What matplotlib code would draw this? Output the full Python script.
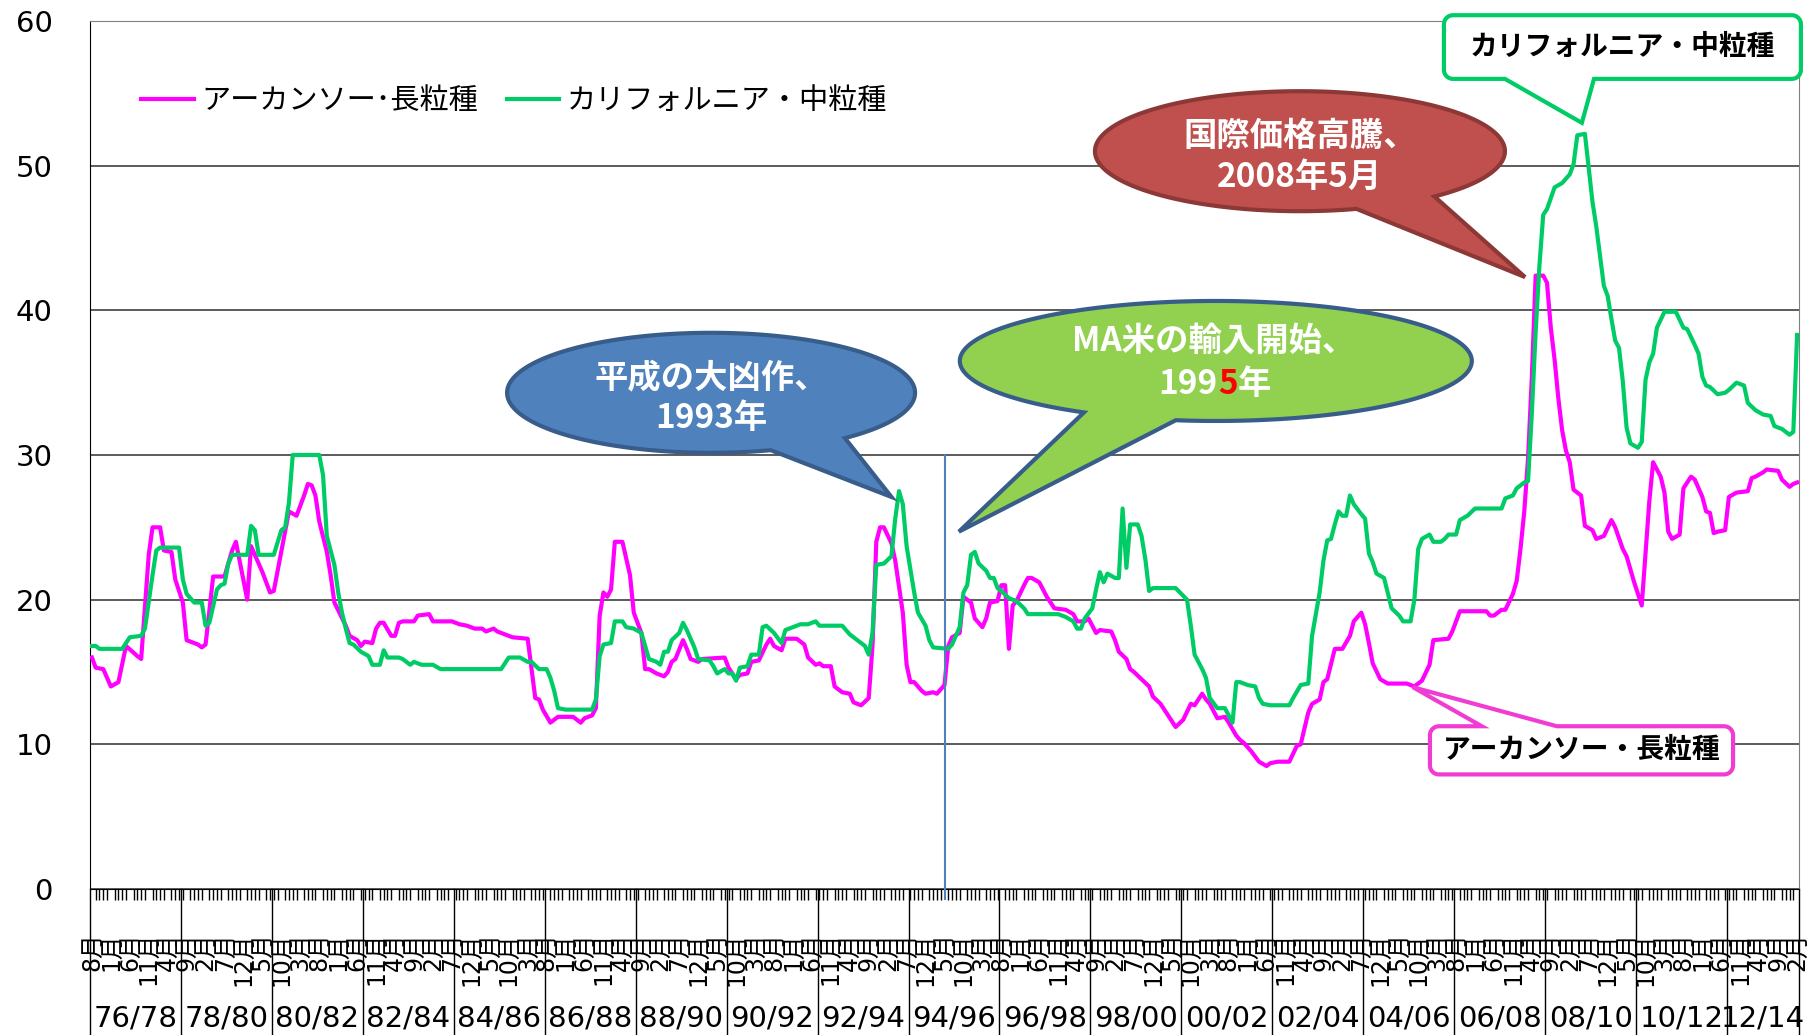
import matplotlib
matplotlib.use("Agg")
import matplotlib.pyplot as plt
import numpy as np
from matplotlib.patches import Polygon

plt.rcParams['font.family'] = ['Noto Sans CJK JP', 'DejaVu Sans']

# monthly index: 0 = Aug 1976 ... 450 = Feb 2014
n_months = 451

ark_month = [0, 1, 3, 5, 7, 9, 12, 13, 15, 16,
             18, 19, 21, 22, 24, 25, 28, 29, 30, 32,
             35, 37, 38, 41, 42, 45, 47, 48, 51, 52,
             54, 56, 57, 58, 59, 60, 62, 63, 64, 67,
             68, 70, 71, 72, 74, 75, 76, 77, 79, 80,
             81, 82, 85, 86, 89, 90, 95, 97, 99, 101,
             103, 104, 106, 107, 108, 111, 115, 117, 118, 119,
             121, 123, 127, 129, 130, 132, 133, 134, 135, 136,
             137, 138, 140, 142, 143, 145, 146, 147, 149, 151,
             152, 153, 154, 156, 157, 158, 160, 161, 167, 168,
             170, 171, 173, 174, 176, 178, 179, 180, 182, 183,
             186, 188, 189, 191, 192, 193, 195, 196, 198, 200,
             201, 203, 205, 206, 207, 208, 209, 211, 212, 214,
             215, 216, 217, 219, 220, 222, 223, 225, 226, 227,
             229, 230, 232, 233, 235, 236, 237, 239, 240, 241,
             242, 243, 244, 246, 247, 248, 250, 252, 254, 257,
             259, 260, 262, 263, 265, 266, 269, 270, 271, 273,
             274, 275, 277, 279, 280, 282, 284, 285, 286, 288,
             290, 291, 293, 294, 295, 297, 299, 300, 302, 303,
             304, 306, 308, 310, 311, 313, 316, 318, 319, 321,
             322, 324, 325, 326, 328, 330, 332, 333, 335, 336,
             337, 338, 340, 342, 347, 349, 351, 353, 354, 358,
             359, 361, 368, 369, 370, 372, 373, 375, 376, 377,
             378, 379, 380, 381, 383, 384, 385, 386, 387, 388,
             389, 390, 391, 393, 394, 396, 397, 399, 401, 402,
             404, 405, 407, 408, 409, 411, 412, 414, 415, 416,
             417, 419, 420, 422, 423, 425, 426, 427, 428, 429,
             431, 432, 434, 437, 438, 439, 441, 442, 445, 446,
             448, 449, 450]
ark_price = [16.0, 15.3, 15.2, 14.0, 14.3, 16.8, 16.1, 15.9, 23.1, 25.0,
             25.0, 23.4, 23.3, 21.4, 19.8, 17.2, 16.9, 16.7, 16.9, 21.6,
             21.6, 23.4, 24.0, 20.0, 23.7, 21.9, 20.5, 20.6, 24.7, 26.1,
             25.8, 27.2, 28.0, 27.9, 27.2, 25.4, 23.3, 21.7, 19.8, 18.2,
             17.5, 17.2, 16.8, 17.1, 17.0, 18.0, 18.4, 18.4, 17.5, 17.5,
             18.4, 18.5, 18.5, 18.9, 19.0, 18.5, 18.5, 18.3, 18.2, 18.0,
             18.0, 17.8, 18.0, 17.8, 17.7, 17.4, 17.3, 13.2, 13.1, 12.4,
             11.5, 11.9, 11.9, 11.5, 11.8, 12.0, 12.5, 18.9, 20.5, 20.2,
             20.7, 24.0, 24.0, 21.7, 19.1, 17.7, 15.2, 15.2, 14.9, 14.7,
             15.0, 15.7, 15.9, 17.2, 16.6, 15.9, 15.7, 15.9, 16.0, 15.3,
             14.5, 14.8, 14.9, 15.7, 15.8, 16.9, 17.3, 16.8, 16.5, 17.3,
             17.3, 16.9, 16.0, 15.5, 15.6, 15.4, 15.4, 14.0, 13.6, 13.5,
             12.9, 12.7, 13.2, 16.8, 24.0, 25.0, 25.0, 23.9, 22.7, 19.1,
             15.5, 14.3, 14.3, 13.7, 13.5, 13.6, 13.5, 14.1, 16.8, 17.4,
             17.7, 20.2, 19.8, 18.7, 18.1, 18.7, 19.8, 19.9, 21.0, 21.0,
             16.6, 19.6, 19.9, 21.0, 21.5, 21.5, 21.2, 20.2, 19.4, 19.3,
             19.0, 18.5, 18.5, 18.7, 17.7, 17.9, 17.8, 17.2, 16.4, 15.9,
             15.2, 15.0, 14.5, 14.0, 13.3, 12.8, 12.0, 11.6, 11.2, 11.7,
             12.8, 12.7, 13.5, 13.1, 12.8, 11.8, 11.9, 11.5, 10.6, 10.3,
             10.1, 9.5, 8.8, 8.5, 8.7, 8.8, 8.8, 9.9, 10.0, 12.2,
             12.8, 13.1, 14.3, 14.5, 16.6, 16.6, 17.5, 18.5, 19.1, 18.3,
             17.0, 15.6, 14.5, 14.2, 14.2, 14.0, 14.4, 15.5, 17.2, 17.3,
             17.8, 19.2, 19.2, 18.9, 18.9, 19.3, 19.3, 20.4, 21.3, 23.5,
             26.1, 29.8, 35.4, 42.4, 42.4, 41.9, 38.8, 36.6, 33.9, 31.7,
             30.3, 29.5, 27.6, 27.2, 25.1, 24.8, 24.2, 24.4, 25.5, 25.0,
             23.5, 23.0, 21.2, 20.4, 19.6, 26.8, 29.5, 28.5, 27.4, 24.7,
             24.2, 24.5, 27.7, 28.5, 28.3, 27.1, 26.1, 26.0, 24.6, 24.7,
             24.8, 27.1, 27.4, 27.5, 28.4, 28.5, 28.8, 29.0, 28.9, 28.3,
             27.8, 28.0, 28.1]

cal_month = [0, 1, 2, 8, 10, 13, 14, 16, 17, 18,
             23, 24, 25, 27, 29, 30, 31, 33, 34, 35,
             36, 37, 41, 42, 43, 44, 48, 50, 51, 52,
             53, 60, 61, 62, 64, 65, 66, 67, 68, 69,
             71, 73, 74, 76, 77, 78, 81, 82, 84, 85,
             87, 90, 92, 108, 110, 113, 115, 116, 118, 120,
             121, 122, 123, 125, 132, 133, 134, 135, 137, 138,
             140, 141, 143, 145, 147, 149, 150, 151, 152, 153,
             155, 156, 157, 159, 160, 163, 164, 165, 167, 168,
             169, 170, 171, 173, 174, 176, 177, 178, 180, 182,
             183, 185, 187, 189, 191, 192, 198, 200, 201, 204,
             205, 206, 207, 209, 211, 212, 213, 214, 215, 217,
             218, 220, 221, 222, 226, 227, 229, 230, 231, 232,
             233, 234, 236, 237, 238, 239, 240, 242, 244, 246,
             247, 255, 257, 259, 260, 261, 262, 264, 265, 266,
             267, 268, 270, 271, 272, 273, 274, 276, 277, 278,
             279, 280, 286, 289, 290, 291, 293, 294, 295, 297,
             299, 300, 301, 302, 303, 305, 307, 308, 309, 311,
             316, 317, 319, 321, 322, 324, 325, 326, 327, 328,
             329, 330, 331, 332, 333, 335, 336, 337, 338, 339,
             341, 343, 345, 346, 348, 349, 350, 351, 353, 354,
             356, 357, 358, 360, 361, 363, 365, 372, 373, 375,
             376, 378, 379, 380, 381, 382, 383, 384, 386, 388,
             390, 391, 392, 394, 396, 397, 399, 400, 401, 402,
             403, 404, 405, 406, 408, 409, 410, 411, 412, 413,
             415, 418, 420, 421, 423, 424, 425, 426, 427, 429,
             431, 432, 434, 436, 437, 439, 441, 443, 444, 446,
             448, 449, 450]
cal_price = [16.8, 16.8, 16.6, 16.6, 17.4, 17.5, 18.0, 21.7, 23.4, 23.6,
             23.6, 21.4, 20.4, 19.8, 19.8, 18.2, 18.4, 20.7, 21.0, 21.1,
             22.5, 23.1, 23.1, 25.1, 24.8, 23.1, 23.1, 24.8, 25.0, 26.7,
             30.0, 30.0, 28.6, 24.4, 22.4, 20.5, 19.1, 18.0, 17.0, 16.9,
             16.4, 16.1, 15.5, 15.5, 16.5, 16.0, 16.0, 15.9, 15.5, 15.7,
             15.5, 15.5, 15.2, 15.2, 16.0, 16.0, 15.7, 15.7, 15.2, 15.2,
             14.6, 13.7, 12.5, 12.4, 12.4, 13.1, 16.1, 16.9, 17.0, 18.5,
             18.5, 18.1, 18.0, 17.7, 15.9, 15.7, 15.5, 16.4, 16.4, 17.2,
             17.7, 18.4, 17.9, 16.7, 15.9, 15.8, 15.4, 14.9, 15.2, 14.9,
             14.9, 14.4, 15.3, 15.4, 16.2, 16.2, 18.1, 18.2, 17.7, 17.0,
             17.9, 18.1, 18.3, 18.3, 18.5, 18.2, 18.2, 17.6, 17.4, 16.8,
             16.2, 17.7, 22.4, 22.5, 23.0, 25.6, 27.5, 26.6, 23.7, 20.5,
             19.1, 18.2, 17.2, 16.7, 16.6, 16.9, 18.1, 20.5, 21.0, 23.1,
             23.3, 22.5, 22.0, 21.5, 21.5, 20.8, 20.6, 20.1, 19.9, 19.4,
             19.0, 19.0, 18.8, 18.5, 18.0, 18.0, 18.7, 19.4, 20.7, 21.9,
             21.2, 21.8, 21.5, 21.5, 26.3, 22.2, 25.2, 25.2, 24.4, 22.8,
             20.6, 20.8, 20.8, 20.0, 18.2, 16.2, 15.2, 14.6, 13.2, 12.5,
             12.5, 12.0, 11.5, 14.3, 14.3, 14.1, 14.0, 13.2, 12.8, 12.7,
             12.7, 13.2, 14.1, 14.2, 17.5, 20.5, 22.7, 24.1, 24.2, 25.2,
             26.1, 25.8, 25.8, 27.2, 26.6, 25.9, 25.6, 23.2, 22.6, 21.8,
             21.5, 19.4, 18.9, 18.5, 18.5, 20.0, 23.5, 24.2, 24.5, 24.0,
             24.0, 24.2, 24.5, 24.5, 25.5, 25.8, 26.3, 26.3, 27.0, 27.2,
             27.7, 28.1, 28.2, 32.9, 38.5, 43.1, 46.6, 47.0, 48.5, 48.8,
             49.4, 50.1, 52.1, 52.2, 47.5, 45.8, 41.7, 41.0, 39.4, 37.9,
             37.4, 35.1, 31.9, 30.8, 30.5, 30.9, 35.2, 36.4, 37.0, 38.8,
             39.9, 39.9, 38.8, 38.7, 37.6, 37.0, 35.4, 34.8, 34.7, 34.2,
             34.3, 34.5, 35.0, 34.8, 33.6, 33.1, 32.8, 32.7, 32.0, 31.8,
             31.4, 31.6, 38.3]

group_labels = ['76/78', '78/80', '80/82', '82/84', '84/86', '86/88', '88/90',
                '90/92', '92/94', '94/96', '96/98', '98/00', '00/02', '02/04',
                '04/06', '06/08', '08/10', '10/12', '12/14']
month_names = [str(m) + '月' for m in [8, 9, 10, 11, 12, 1, 2, 3, 4, 5, 6, 7]]

ark_name = 'アーカンソー･長粒種'
cal_name = 'カリフォルニア・中粒種'

W, H = 1808, 1035
fig = plt.figure(figsize=(W / 100, H / 100), dpi=100)
L, R, B, T = 90, 1799, 889, 21
ax = fig.add_axes([L / W, (H - B) / H, (R - L) / W, (B - T) / H])
ax.set_xlim(-0.5, n_months - 0.5)
ax.set_ylim(0, 60)
KX = n_months / (R - L)   # months per pixel
KY = 60 / (B - T)         # price units per pixel

ax.set_yticks(range(0, 61, 10))
ax.yaxis.grid(True, color='#404040', lw=1.2)
ax.set_axisbelow(True)
ax.tick_params(axis='y', length=0, pad=27, labelsize=21)
for lab in ax.get_yticklabels():
    lab.set_family('DejaVu Sans')

# month labels every 5 months (rotated, they pile up as in the original)
ticks = list(range(0, n_months, 5))
ax.set_xticks(ticks)
ax.set_xticklabels([month_names[t % 12] for t in ticks], rotation=90,
                   fontsize=17, family=['DejaVu Sans', 'Noto Sans CJK JP'])
ax.set_xticks(range(n_months), minor=True)
ax.tick_params(axis='x', which='major', length=0, pad=31)
ax.tick_params(axis='x', which='minor', length=8, width=1, color='black')

for s in ['top', 'right']:
    ax.spines[s].set_color('#808080')
for s in ['left', 'bottom']:
    ax.spines[s].set_color('black')

# crop year groups below the axis
tr = ax.get_xaxis_transform()
for g in range(len(group_labels) + 1):
    xg = min(g * 24, n_months) - 0.5
    ax.plot([xg, xg], [0, -0.17], transform=tr, color='black', lw=1,
            clip_on=False)
for g, lab in enumerate(group_labels):
    xc = (g * 24 + min(g * 24 + 24, n_months)) / 2 - 0.5
    ax.text(xc, -0.149, lab, transform=tr, ha='center', va='center',
            fontsize=21, family='DejaVu Sans')

ax.plot(ark_month, ark_price, color='#FF00FF', lw=3, label=ark_name,
        solid_joinstyle='round', zorder=3)
ax.plot(cal_month, cal_price, color='#00CC66', lw=3, label=cal_name,
        solid_joinstyle='round', zorder=3)

ax.legend(loc='center left', bbox_to_anchor=(0.03, 0.908), ncol=2,
          frameon=False, fontsize=21, handlelength=1.8, handletextpad=0.25,
          columnspacing=1.0, borderpad=0, borderaxespad=0)

# MA rice import start marker
ax.plot([225.1, 225.1], [30, -0.7], color='#4F81BD', lw=1.5, clip_on=False,
        zorder=4)


def ellipse_callout(cx, cy, a, b, t1, t2, tip, fc, ec):
    ts = np.radians(np.linspace(t2, t1 + 360, 240))
    pts = [(cx + a * KX * np.cos(t), cy + b * KY * np.sin(t)) for t in ts]
    pts.append(tip)
    ax.add_patch(Polygon(pts, closed=True, fc=fc, ec=ec, lw=3,
                         clip_on=False, zorder=5, joinstyle='miter'))


def corner(xc, yc, r, a0, a1):
    ts = np.radians(np.linspace(a0, a1, 12))
    return [(xc + r * KX * np.cos(t), yc + r * KY * np.sin(t)) for t in ts]


def box_callout(x0, x1, y0, y1, r, tail, side, ec):
    rx, ry = r * KX, r * KY
    pts = corner(x0 + rx, y0 + ry, r, 180, 270)
    if side == 'bottom':
        pts += [(tail[0], y0), tail[2], (tail[1], y0)]
    pts += corner(x1 - rx, y0 + ry, r, 270, 360)
    pts += corner(x1 - rx, y1 - ry, r, 0, 90)
    if side == 'top':
        pts += [(tail[1], y1), tail[2], (tail[0], y1)]
    pts += corner(x0 + rx, y1 - ry, r, 90, 180)
    ax.add_patch(Polygon(pts, closed=True, fc='white', ec=ec, lw=3,
                         clip_on=False, zorder=5, joinstyle='miter'))


bold = dict(fontweight='bold', zorder=6, ha='center', va='center')

# 平成の大凶作
ellipse_callout(163.4, 34.3, 204, 60, -73, -49, (211, 27.1),
                '#4F81BD', '#385D8A')
ax.text(163.4, 33.9, '平成の大凶作、\n1993年', color='white', fontsize=24,
        linespacing=1.3, **bold)

# MA米の輸入開始
ellipse_callout(296.6, 36.5, 256, 60, -121, -99, (228.8, 24.7),
                '#92D050', '#385D8A')
ax.text(296.0, 36.5 + 20 * KY, 'MA米の輸入開始、', color='white', fontsize=24,
        **bold)
t1 = ax.text(296.6 + 2 * KX, 36.5 - 24 * KY, '199', color='white',
             fontsize=24, fontweight='bold', ha='right', va='center', zorder=6)
t2 = ax.annotate('5', xy=(1, 0), xycoords=t1, ha='left', va='bottom',
                 color='red', fontsize=24, fontweight='bold', zorder=6,
                 annotation_clip=False)
ax.annotate('年', xy=(1, 0), xycoords=t2, ha='left', va='bottom',
            color='white', fontsize=24, fontweight='bold', zorder=6,
            annotation_clip=False)

# 国際価格高騰
ellipse_callout(318.8, 51.0, 205, 60, -74, -49, (378.2, 42.3),
                '#C0504D', '#8C3836')
ax.text(318.8, 50.6, '国際価格高騰、\n2008年5月', color='white', fontsize=24,
        linespacing=1.3, **bold)

# series labels
box_callout(356.8, 451.0, 56.0, 60.4, 9, (372.9, 396.4, (393.2, 52.96)),
            'bottom', '#00CC66')
ax.text(403.9, 58.2, cal_name, color='black', fontsize=20, **bold)
box_callout(353.1, 433.1, 7.92, 11.25, 9, (366.8, 386.6, (348.6, 13.95)),
            'top', '#F03CD2')
ax.text(393.1, 9.6, 'アーカンソー・長粒種', color='black', fontsize=20, **bold)

fig.savefig('out.png', dpi=100)
